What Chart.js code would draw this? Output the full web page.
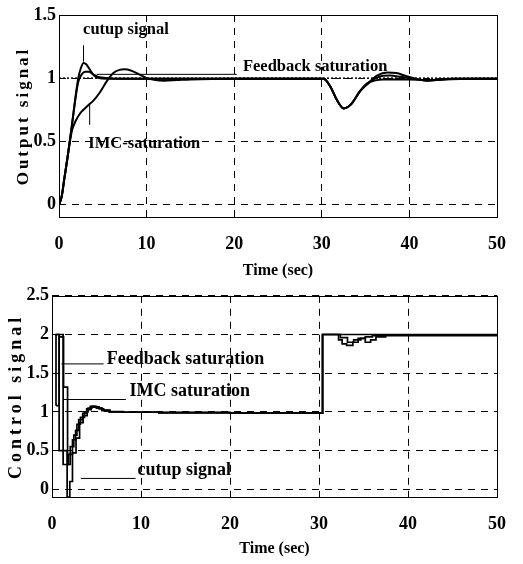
<!DOCTYPE html>
<html><head><meta charset="utf-8">
<script src="https://cdn.jsdelivr.net/npm/chart.js@4/dist/chart.umd.min.js"></script>
<style>
html,body{margin:0;padding:0;background:#fff;}
#wrap{position:relative;width:523px;height:564px;background:#fff;}
canvas{position:absolute;left:0;}
#c1{top:0;}
#c2{top:282px;}
</style></head>
<body><div id="wrap"><canvas id="c1" width="523" height="282"></canvas><canvas id="c2" width="523" height="282"></canvas></div>
<script>
// ---------- Output signal (top chart) ----------
const cutupT = [0, 0.3, 0.6, 0.95, 1.25, 1.5, 1.9, 2.2, 2.5, 2.8, 3.1, 3.5, 4.0, 4.5, 5.5, 7, 10, 15, 20, 25, 30.2, 31, 31.7, 32.5, 33.3, 34.4, 35.2, 36, 37, 38.5, 40, 42, 45, 50];
const cutupV = [0, 0.06, 0.2, 0.36, 0.51, 0.64, 0.86, 1.0, 1.08, 1.12, 1.11, 1.07, 1.02, 1.0, 0.995, 0.995, 0.995, 0.995, 0.995, 0.995, 0.995, 0.93, 0.83, 0.76, 0.79, 0.9, 0.96, 0.98, 0.99, 0.99, 0.99, 0.985, 0.995, 0.995];
const feedT = [0, 0.3, 0.6, 0.95, 1.25, 1.5, 1.9, 2.2, 2.6, 3.0, 3.4, 3.9, 4.5, 5.5, 7, 10, 15, 20, 25, 30.2, 31, 31.7, 32.5, 33.3, 34.4, 35.3, 36.3, 37.5, 38.5, 39.5, 41, 42, 44, 50];
const feedV = [0, 0.06, 0.2, 0.36, 0.51, 0.64, 0.85, 0.97, 1.03, 1.05, 1.05, 1.03, 1.01, 1.0, 0.995, 0.995, 0.995, 0.995, 0.995, 0.995, 0.93, 0.83, 0.76, 0.79, 0.9, 0.96, 1.02, 1.045, 1.04, 1.02, 0.99, 0.98, 0.99, 0.995];
const imcT = [0, 0.3, 0.6, 0.95, 1.25, 1.5, 1.9, 2.4, 2.8, 3.4, 3.9, 4.6, 5.5, 6.2, 6.9, 7.5, 8.2, 9.0, 10, 11, 12, 13.5, 15, 20, 25, 30.2, 31, 31.7, 32.5, 33.3, 34.4, 35.5, 36.5, 37.8, 39, 40.5, 42, 43, 45, 50];
const imcV = [0, 0.06, 0.2, 0.36, 0.5, 0.59, 0.66, 0.72, 0.75, 0.79, 0.82, 0.88, 0.98, 1.04, 1.065, 1.07, 1.06, 1.035, 1.0, 0.985, 0.98, 0.985, 0.99, 0.995, 0.995, 0.995, 0.93, 0.83, 0.76, 0.79, 0.9, 0.97, 1.01, 1.02, 1.01, 0.995, 0.98, 0.985, 0.995, 0.995];
const refT = [0, 50];
const refV = [1, 1];
const outXTicks = [0, 10, 20, 30, 40, 50];
const outXLabels = ['0', '10', '20', '30', '40', '50'];
const outYTicks = [0, 0.5, 1, 1.5];
const outYLabels = ['0', '0.5', '1', '1.5'];

// ---------- Control signal (bottom chart) ----------
const fsT = [0.45, 0.45, 1.25, 1.85, 2.3, 2.65, 3.0, 3.45, 3.9, 4.3, 4.8, 5.3, 5.8, 6.5, 8, 12, 20, 30.4, 32.2, 32.6, 33.1, 33.8, 34.4, 35.2, 36, 37, 50];
const fsV = [1.08, 2.0, 0.32, 0.45, 0.64, 0.76, 0.9, 0.98, 1.04, 1.07, 1.065, 1.04, 1.02, 1.005, 0.995, 0.99, 0.985, 2.0, 1.93, 1.88, 1.86, 1.9, 1.95, 1.97, 1.985, 1.99, 1.99];
const imcCT = [0.45, 0.8, 1.3, 1.75, 2.05, 2.45, 2.8, 3.2, 3.65, 4.05, 4.5, 5.0, 5.6, 6.4, 8, 12, 20, 30.4, 32.4, 33.2, 33.9, 34.7, 35.2, 35.8, 36.4, 37.5, 50];
const imcCV = [1.08, 1.97, 1.32, 0.32, 0.55, 0.7, 0.84, 0.93, 1.0, 1.05, 1.07, 1.05, 1.02, 1.0, 0.995, 0.99, 0.985, 2.0, 1.96, 1.9, 1.93, 1.95, 1.9, 1.93, 1.97, 1.985, 1.99];
const cutCT = [0.45, 0.8, 1.7, 2.0, 2.3, 2.7, 3.1, 3.5, 3.95, 4.4, 5.0, 5.6, 6.5, 8, 12, 20, 30.4, 50];
const cutCV = [2.0, 0.5, -0.1, 0.1, 0.47, 0.66, 0.86, 0.95, 1.03, 1.06, 1.05, 1.02, 1.0, 0.995, 0.99, 0.985, 2.0, 1.99];
const ctlXTicks = [0, 10, 20, 30, 40, 50];
const ctlXLabels = ['0', '10', '20', '30', '40', '50'];
const ctlYTicks = [0, 0.5, 1, 1.5, 2, 2.5];
const ctlYLabels = ['0', '0.5', '1', '1.5', '2', '2.5'];

// ---------- annotation texts ----------
const outNoteTexts = ['cutup signal', 'Feedback saturation', 'IMC-saturation'];
const ctlNoteTexts = ['Feedback saturation', 'IMC saturation', 'cutup signal'];

// ---------- helpers ----------
const pts = (t, v) => t.map((x, i) => ({x: x, y: v[i]}));
const FONT = '"Liberation Serif", "Times New Roman", serif';
Chart.defaults.font.family = FONT;
Chart.defaults.color = '#000';

const framePlugin = {
  id: 'frame',
  beforeDatasetsDraw(chart) {
    const {ctx, chartArea: a} = chart;
    ctx.save();
    ctx.strokeStyle = '#000';
    ctx.lineWidth = 1;
    ctx.setLineDash([]);
    ctx.strokeRect(Math.round(a.left) + 0.5, Math.round(a.top) + 0.5, Math.round(a.right - a.left), Math.round(a.bottom - a.top));
    ctx.restore();
  }
};

const notesPlugin = {
  id: 'notes',
  afterDatasetsDraw(chart, args, opts) {
    const {ctx} = chart;
    const xs = chart.scales.x, ys = chart.scales.y;
    ctx.save();
    ctx.strokeStyle = '#000';
    ctx.lineWidth = 1;
    ctx.setLineDash([]);
    (opts.leaders || []).forEach(l => {
      ctx.beginPath();
      ctx.moveTo(xs.getPixelForValue(l[0]), ys.getPixelForValue(l[1]));
      ctx.lineTo(xs.getPixelForValue(l[2]), ys.getPixelForValue(l[3]));
      ctx.stroke();
    });
    ctx.fillStyle = '#000';
    ctx.font = 'bold ' + opts.size + 'px ' + FONT;
    ctx.textAlign = 'left';
    ctx.textBaseline = 'middle';
    (opts.items || []).forEach(n => {
      ctx.fillText(n.text, xs.getPixelForValue(n.t), ys.getPixelForValue(n.v));
    });
    ctx.restore();
  }
};

const spacedTitlePlugin = {
  id: 'spacedTitle',
  beforeDraw(chart, args, opts) {
    const sc = chart.scales.y;
    if (sc && !sc.__spaced) {
      const orig = sc.drawTitle;
      sc.drawTitle = function () {
        const ctx = this.ctx;
        const prev = ctx.letterSpacing;
        if ('letterSpacing' in ctx) ctx.letterSpacing = opts.spacing + 'px';
        orig.call(this);
        if ('letterSpacing' in ctx) ctx.letterSpacing = prev;
      };
      sc.__spaced = true;
    }
  }
};

function lineDs(label, t, v, extra) {
  return Object.assign({
    label: label, data: pts(t, v), borderColor: '#000', backgroundColor: '#000',
    borderWidth: 2, pointRadius: 0, fill: false
  }, extra || {});
}

function axisX(ticks, labels, xHeight, titlePadBottom) {
  return {
    type: 'linear', min: 0, max: 50,
    afterBuildTicks: s => { s.ticks = ticks.map(v => ({value: v})); },
    afterFit: s => { s.height = xHeight; },
    grid: {color: '#000', lineWidth: 1, drawTicks: false},
    border: {display: false, dash: [7, 6]},
    ticks: {padding: 17, autoSkip: false, maxRotation: 0, color: '#000',
      font: {size: 18, weight: 'bold'}, callback: (v, i) => labels[i]},
    title: {display: true, text: 'Time (sec)', color: '#000',
      font: {size: 16, weight: 'bold'}, padding: {top: 0, bottom: titlePadBottom}}
  };
}

function axisY(min, max, ticks, labels, yWidth, title, titleSize, titlePadTop) {
  return {
    type: 'linear', min: min, max: max,
    afterBuildTicks: s => { s.ticks = ticks.map(v => ({value: v})); },
    afterFit: s => { s.width = yWidth; },
    grid: {color: '#000', lineWidth: 1, drawTicks: false},
    border: {display: false, dash: [7, 6]},
    ticks: {padding: 3, autoSkip: false, color: '#000',
      font: {size: 18, weight: 'bold'}, callback: (v, i) => labels[i]},
    title: {display: true, text: title, color: '#000',
      font: {size: titleSize, weight: 'bold'}, padding: {top: titlePadTop, bottom: 0}}
  };
}

new Chart(document.getElementById('c1'), {
  type: 'line',
  data: {datasets: [
    lineDs('cutup signal', cutupT, cutupV, {cubicInterpolationMode: 'monotone'}),
    lineDs('Feedback saturation', feedT, feedV, {cubicInterpolationMode: 'monotone'}),
    lineDs('IMC-saturation', imcT, imcV, {cubicInterpolationMode: 'monotone'}),
    lineDs('setpoint', refT, refV, {borderWidth: 1.5, borderDash: [2, 2]})
  ]},
  options: {
    responsive: false, animation: false, events: [],
    layout: {padding: {left: 0, right: 10, top: 15, bottom: 0}},
    plugins: {
      legend: {display: false}, tooltip: {enabled: false},
      spacedTitle: {spacing: 3},
      notes: {
        size: 16.5,
        items: [
          {text: outNoteTexts[0], t: 2.75, v: 1.385},
          {text: outNoteTexts[1], t: 21.0, v: 1.09},
          {text: outNoteTexts[2], t: 3.35, v: 0.48}
        ],
        leaders: [[2.8, 1.26, 2.8, 1.13], [4.3, 1.03, 20.3, 1.03], [3.5, 0.8, 3.5, 0.63]]
      }
    },
    scales: {
      x: axisX(outXTicks, outXLabels, 65, 2),
      y: axisY(-0.1, 1.5, outYTicks, outYLabels, 59, 'Output signal', 17, 13)
    }
  },
  plugins: [framePlugin, notesPlugin, spacedTitlePlugin]
});

new Chart(document.getElementById('c2'), {
  type: 'line',
  data: {datasets: [
    lineDs('Feedback saturation', fsT, fsV, {stepped: true, borderWidth: 1.7}),
    lineDs('IMC saturation', imcCT, imcCV, {stepped: true, borderWidth: 1.7}),
    lineDs('cutup signal', cutCT, cutCV, {stepped: true, borderWidth: 1.7})
  ]},
  options: {
    responsive: false, animation: false, events: [],
    layout: {padding: {left: 0, right: 13, top: 12, bottom: 0}},
    plugins: {
      legend: {display: false}, tooltip: {enabled: false},
      spacedTitle: {spacing: 4},
      notes: {
        size: 18,
        items: [
          {text: ctlNoteTexts[0], t: 6.15, v: 1.68},
          {text: ctlNoteTexts[1], t: 8.7, v: 1.26},
          {text: ctlNoteTexts[2], t: 9.6, v: 0.24}
        ],
        leaders: [[1.06, 1.62, 5.8, 1.62], [1.24, 1.16, 8.3, 1.16], [3.24, 0.14, 9.4, 0.14]]
      }
    },
    scales: {
      x: axisX(ctlXTicks, ctlXLabels, 67, 6),
      y: axisY(-0.1, 2.5, ctlYTicks, ctlYLabels, 52, 'Control signal', 18, 6)
    }
  },
  plugins: [framePlugin, notesPlugin, spacedTitlePlugin]
});
</script></body></html>
